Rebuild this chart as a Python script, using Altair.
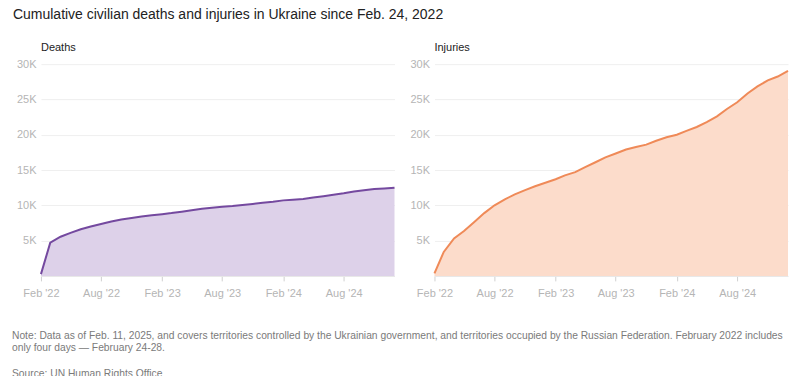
import altair as alt
import pandas as pd

months = pd.date_range("2022-02-01", "2025-01-01", freq="MS").strftime("%Y-%m-%dT00:00:00").tolist()

deaths = [250, 4700, 5550, 6100, 6600, 7000, 7350, 7700, 8000, 8200, 8400, 8600,
          8750, 8900, 9100, 9300, 9500, 9650, 9800, 9900, 10050, 10200, 10350, 10500,
          10700, 10800, 10900, 11100, 11300, 11500, 11700, 11950, 12150, 12300, 12400, 12500]
injuries = [350, 3400, 5300, 6350, 7650, 8900, 10000, 10850, 11550, 12150, 12700, 13200,
            13700, 14250, 14700, 15400, 16100, 16800, 17350, 17900, 18250, 18600, 19150, 19650,
            20000, 20550, 21100, 21800, 22600, 23650, 24600, 25850, 26850, 27700, 28250, 29050]

y_ticks = [5000, 10000, 15000, 20000, 25000, 30000]
x_ticks = [(2022, 2), (2022, 8), (2023, 2), (2023, 8), (2024, 2), (2024, 8)]

title_text = "Cumulative civilian deaths and injuries in Ukraine since Feb. 24, 2022"
note_lines = [
    "Note: Data as of Feb. 11, 2025, and covers territories controlled by the Ukrainian government, and territories occupied by the Russian Federation. February 2022 includes",
    "only four days \u2014 February 24-28.",
    "",
    "Source: UN Human Rights Office",
]

FONT = "Liberation Sans"


def panel(values, name, line_color, fill_color):
    df = pd.DataFrame({"month": months, "value": values})
    x = alt.X(
        "month:T",
        title=None,
        scale=alt.Scale(domain=[months[0], months[-1]]),
        axis=alt.Axis(
            values=[alt.DateTime(year=y, month=m, date=1) for y, m in x_ticks],
            format="%b '%y",
            grid=False,
            domain=True,
            domainColor="#e6e6e6",
            ticks=True,
            tickColor="#d0d0d0",
            tickSize=5,
            labelColor="#b5b5b5",
            labelFontSize=11,
            labelPadding=7,
            labelFlush=False,
            labelFont=FONT,
        ),
    )
    y = alt.Y(
        "value:Q",
        title=None,
        scale=alt.Scale(domain=[0, 30000], nice=False),
        axis=alt.Axis(
            values=y_ticks,
            labelExpr="datum.value / 1000 + 'K'",
            grid=True,
            gridColor="#efefef",
            domain=False,
            ticks=False,
            labelColor="#b5b5b5",
            labelFontSize=11,
            labelPadding=5,
            labelFont=FONT,
        ),
    )
    base = alt.Chart(df).encode(x=x, y=y)
    area = base.mark_area(color=fill_color, opacity=1)
    line = base.mark_line(color=line_color, strokeWidth=2)
    return alt.layer(area, line).properties(
        width=354,
        height=212,
        title=alt.TitleParams(
            name, anchor="start", frame="group", fontSize=11, fontWeight="normal",
            color="#222222", font=FONT, offset=5,
        ),
    )


left = panel(deaths, "Deaths", "#74499f", "#ddd1e9")
right = panel(injuries, "Injuries", "#ef8a58", "#fcdccb")

top = alt.hconcat(left, right, spacing=11)

notes_df = pd.DataFrame({"line": note_lines, "row": list(range(len(note_lines)))})
notes = (
    alt.Chart(notes_df)
    .mark_text(align="left", baseline="middle", fontSize=10.3, color="#7a7a7a", font=FONT)
    .encode(
        x=alt.value(-29),
        y=alt.Y("row:Q", scale=alt.Scale(domain=[0, 3], range=[0, 38]), axis=None),
        text="line:N",
    )
    .properties(width=354, height=38)
)

chart = (
    alt.vconcat(top, notes, spacing=32)
    .properties(
        title=alt.TitleParams(
            title_text, anchor="start", fontSize=14, fontWeight="normal",
            color="#222222", font=FONT, offset=20, dx=1,
        ),
        padding={"left": 4, "top": 0, "right": 0, "bottom": 0},
    )
    .configure_view(stroke=None)
)

chart.save("out.html", embed_options={"renderer": "svg", "actions": False})
